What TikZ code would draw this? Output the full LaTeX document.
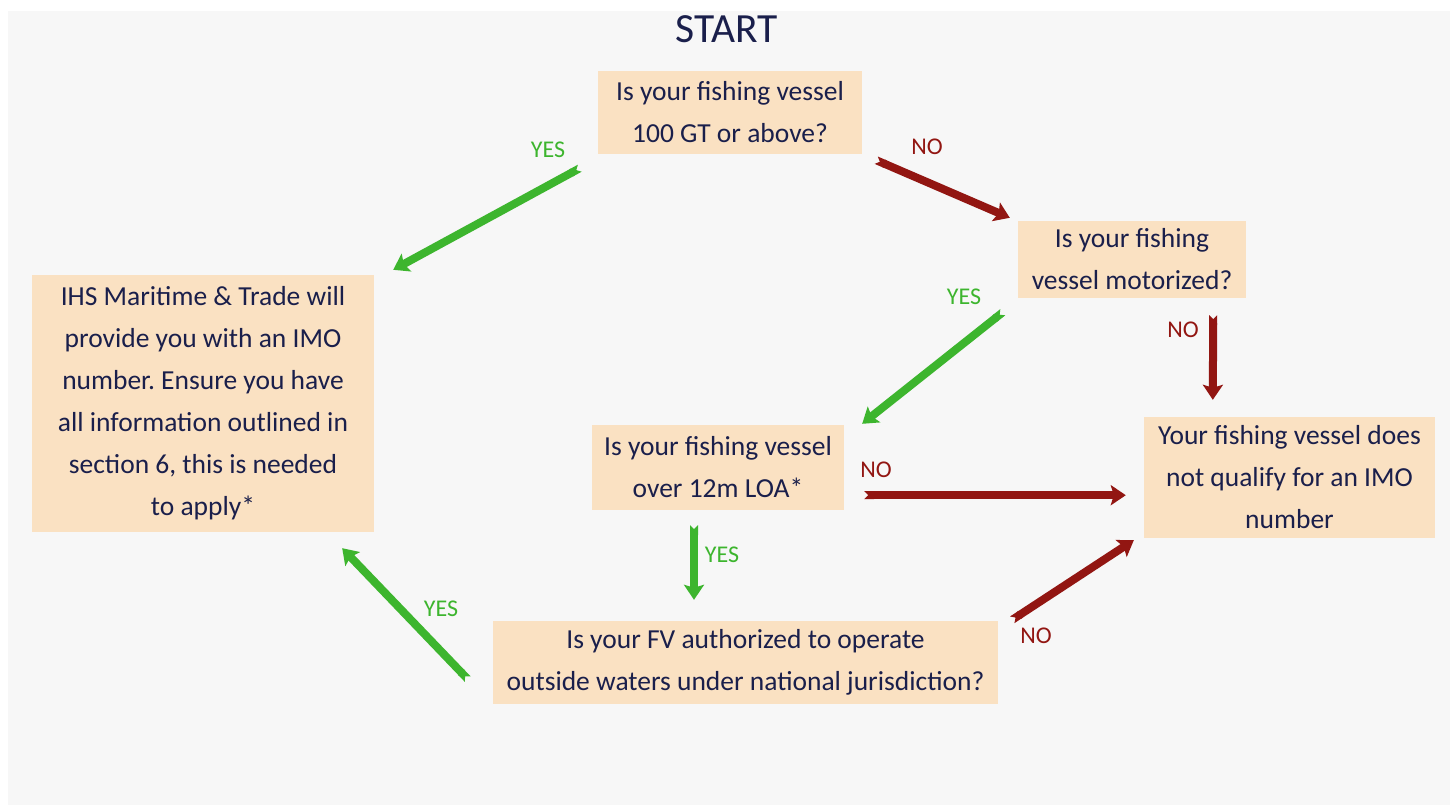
\documentclass[tikz,border=0pt]{standalone}
\usepackage{fontspec}
\setmainfont{Carlito}
\usetikzlibrary{arrows.meta}
\definecolor{pagegray}{HTML}{F7F7F7}
\definecolor{boxfill}{HTML}{FAE1C2}
\definecolor{navy}{HTML}{1A1F4B}
\definecolor{yesgreen}{HTML}{3DB52E}
\definecolor{nored}{HTML}{921612}
\frenchspacing

\begin{document}
\begin{tikzpicture}[x=1pt, y=-1pt,
    box/.style={fill=boxfill, inner sep=0pt, align=center, text=navy,
                font=\fontsize{27.5}{42}\selectfont},
    yesarrow/.style={draw=yesgreen, line width=8pt,
                {Triangle Cap[reversed]}-{Stealth[length=15pt, width=20pt, inset=3pt]}},
    noarrow/.style={draw=nored, line width=8pt,
                {Triangle Cap[reversed]}-{Stealth[length=15pt, width=20pt, inset=3pt]}},
    yeslabel/.style={text=yesgreen, font=\fontsize{24}{24}\selectfont},
    nolabel/.style={text=nored, font=\fontsize{24}{24}\selectfont}]
    \useasboundingbox (0,0) rectangle (1450,805);
    \fill[pagegray] (8,11) rectangle (1450,805);

    \node[text=navy, font=\fontsize{41.5}{41.5}\selectfont] (start) at (727,29) {START};

    % questions and outcomes
    \node[box, minimum width=264pt, minimum height=83pt] (q100) at (730,112.5)
        {Is your fishing vessel\\100 GT or above?};
    \node[box, minimum width=228pt, minimum height=77pt] (motor) at (1132,259.5)
        {Is your fishing\\vessel motorized?};
    \node[box, minimum width=342pt, minimum height=257pt] (ihs) at (203,403.5)
        {IHS Maritime \& Trade will\\provide you with an IMO\\number. Ensure you have\\all information outlined in\\section 6, this is needed\\to apply*};
    \node[box, minimum width=252pt, minimum height=85pt] (loa) at (718,467.5)
        {Is your fishing vessel\\over 12m LOA*};
    \node[box, minimum width=291pt, minimum height=121pt] (nq) at (1289.5,477.5)
        {Your fishing vessel does\\not qualify for an IMO\\number};
    \node[box, minimum width=505pt, minimum height=83pt] (fv) at (745.5,662.5)
        {Is your FV authorized to operate\\outside waters under national jurisdiction?};

    % connectors
    \draw[yesarrow] ([shift={(-18,14)}]q100.south west) -- ([shift={(19,-5)}]ihs.north east);
    \draw[noarrow] ([shift={(14,6)}]q100.south east) -- ([shift={(-8,-3)}]motor.north west);
    \draw[yesarrow] ([shift={(-15,14)}]motor.south west) -- ([shift={(18,-1)}]loa.north east);
    \draw[noarrow] ([shift={(-33,17)}]motor.south east) -- ([shift={(69,-17)}]nq.north west);
    \draw[noarrow] ([shift={(20,-15)}]loa.south east) -- ([shift={(-18,-43)}]nq.south west);
    \draw[yesarrow] ([shift={(-24,15)}]loa.south) -- ([shift={(-51.5,-21)}]fv.north);
    \draw[noarrow] ([shift={(14,-1)}]fv.north east) -- ([shift={(-10,2)}]nq.south west);
    \draw[yesarrow] ([shift={(-25,-25)}]fv.south west) -- ([shift={(-32,16)}]ihs.south east);

    % answer labels
    \node[yeslabel] (y1) at (548,150) {YES};
    \node[nolabel] (n1) at (927,147) {NO};
    \node[yeslabel] (y2) at (964,297) {YES};
    \node[nolabel] (n2) at (1183,330) {NO};
    \node[nolabel] (n3) at (876,470) {NO};
    \node[yeslabel] (y3) at (722,555) {YES};
    \node[nolabel] (n4) at (1036,636) {NO};
    \node[yeslabel] (y4) at (441,609) {YES};
\end{tikzpicture}
\end{document}
